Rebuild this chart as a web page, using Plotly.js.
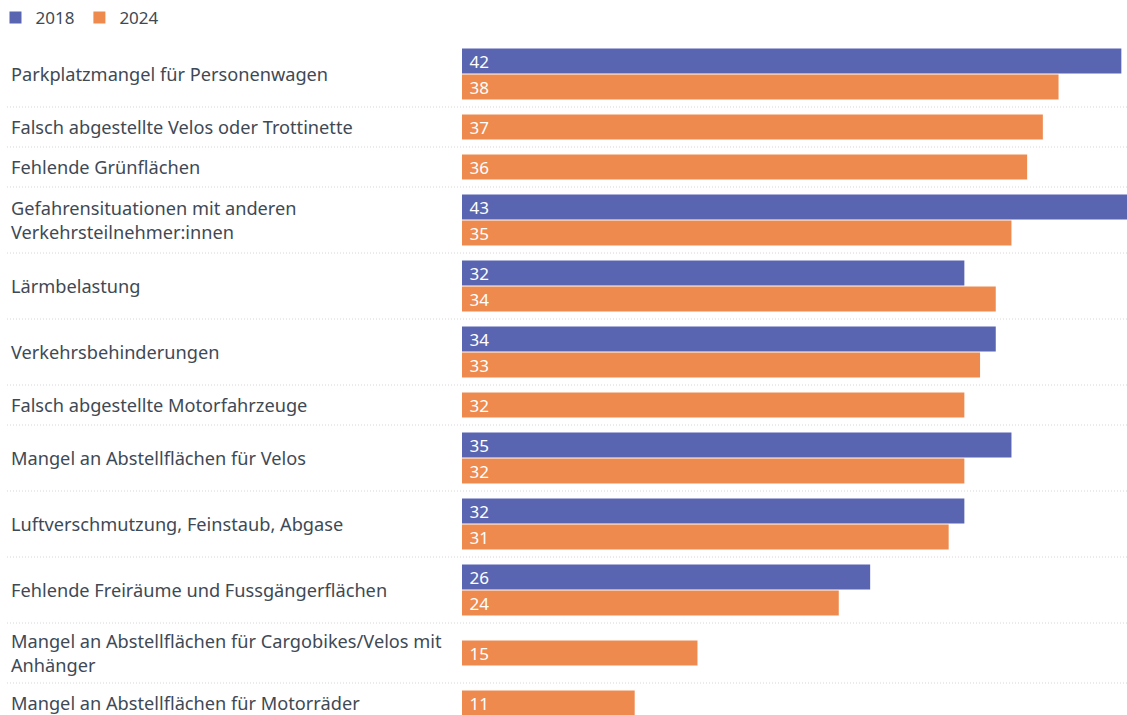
<!DOCTYPE html>
<html>
<head>
<meta charset="utf-8">
<script src="https://cdn.plot.ly/plotly-3.0.1.min.js"></script>
<style>html,body{margin:0;padding:0;background:#fff;}#chart{width:1127px;height:715px;}</style>
</head>
<body>
<div id="chart"></div>
<script>
const categories = [
  "Parkplatzmangel für Personenwagen",
  "Falsch abgestellte Velos oder Trottinette",
  "Fehlende Grünflächen",
  "Gefahrensituationen mit anderen<br>Verkehrsteilnehmer:innen",
  "Lärmbelastung",
  "Verkehrsbehinderungen",
  "Falsch abgestellte Motorfahrzeuge",
  "Mangel an Abstellflächen für Velos",
  "Luftverschmutzung, Feinstaub, Abgase",
  "Fehlende Freiräume und Fussgängerflächen",
  "Mangel an Abstellflächen für Cargobikes/Velos mit<br>Anhänger",
  "Mangel an Abstellflächen für Motorräder"
];
const values2018 = [42, null, null, 43, 32, 34, null, 35, 32, 26, null, null];
const values2024 = [38, 37, 36, 35, 34, 33, 32, 32, 31, 24, 15, 11];
const seriesNames = ["2018", "2024"];

const W = 1127, H = 715, TOP = 41;
const BAR_STEP = 26, BAR_H = 25, LINE_H = 23, PAD = 14;
const colors = ["#5965b1", "#ee8a4e"];

// compute row layout (pixel-like units along the y axis)
const series = [values2018, values2024];
const ys = [[], []];
const labelY = [];
const seps = [];
let rowTop = 0;
categories.forEach((cat, i) => {
  const nb = series.filter(s => s[i] != null).length;
  const lines = cat.split("<br>").length;
  const rowH = Math.max(nb * BAR_STEP, lines * LINE_H) + PAD;
  let y0 = rowTop + (rowH - nb * BAR_STEP) / 2 + BAR_STEP / 2;
  series.forEach((s, k) => {
    if (s[i] != null) { ys[k].push(y0); y0 += BAR_STEP; }
    else ys[k].push(null);
  });
  labelY.push(rowTop + rowH / 2);
  rowTop += rowH;
  if (i < categories.length - 1) seps.push(rowTop);
});

const traces = series.map((s, k) => ({
  type: "bar",
  orientation: "h",
  name: seriesNames[k],
  x: s,
  y: ys[k],
  width: BAR_H,
  marker: { color: colors[k], line: { width: 0 } },
  text: s.map(v => v == null ? "" : "\u00a0" + String(v)),
  textposition: "inside",
  insidetextanchor: "start",
  textangle: 0,
  textfont: { color: "#ffffff", size: 17, family: "Noto Sans" },
  constraintext: "none",
  hoverinfo: "x+name"
}));

const plotH = H - TOP;
const shapes = seps.map(y => ({
  type: "line", xref: "paper", yref: "y",
  x0: 7 / W, x1: 1, y0: y, y1: y,
  line: { color: "#d6d6d6", width: 1, dash: "1px,2px" }
}));
const annotations = categories.map((c, i) => ({
  xref: "paper", yref: "y", x: 9 / W, y: labelY[i],
  xanchor: "left", yanchor: "middle", align: "left",
  text: c, showarrow: false,
  font: { family: "Noto Sans", size: 18.2, color: "#3e4955" }
}));

const layout = {
  width: W, height: H,
  margin: { l: 0, r: 0, t: TOP, b: 0, pad: 0, autoexpand: false },
  paper_bgcolor: "#ffffff", plot_bgcolor: "#ffffff",
  barmode: "overlay",
  font: { family: "Noto Sans", color: "#3e4955" },
  xaxis: { domain: [462 / W, 1], range: [0, 42.36], visible: false, fixedrange: true },
  yaxis: { range: [plotH, 0], visible: false, fixedrange: true },
  showlegend: true,
  legend: {
    orientation: "h", x: -0.004, xanchor: "left", y: 1 + 23 / plotH, yanchor: "middle",
    font: { size: 17, color: "#3e4955" }, itemwidth: 30, tracegroupgap: 0,
    bgcolor: "rgba(0,0,0,0)"
  },
  shapes: shapes,
  annotations: annotations,
  uniformtext: { mode: false }
};

Plotly.newPlot("chart", traces, layout, { displayModeBar: false, staticPlot: true });
</script>
</body>
</html>
